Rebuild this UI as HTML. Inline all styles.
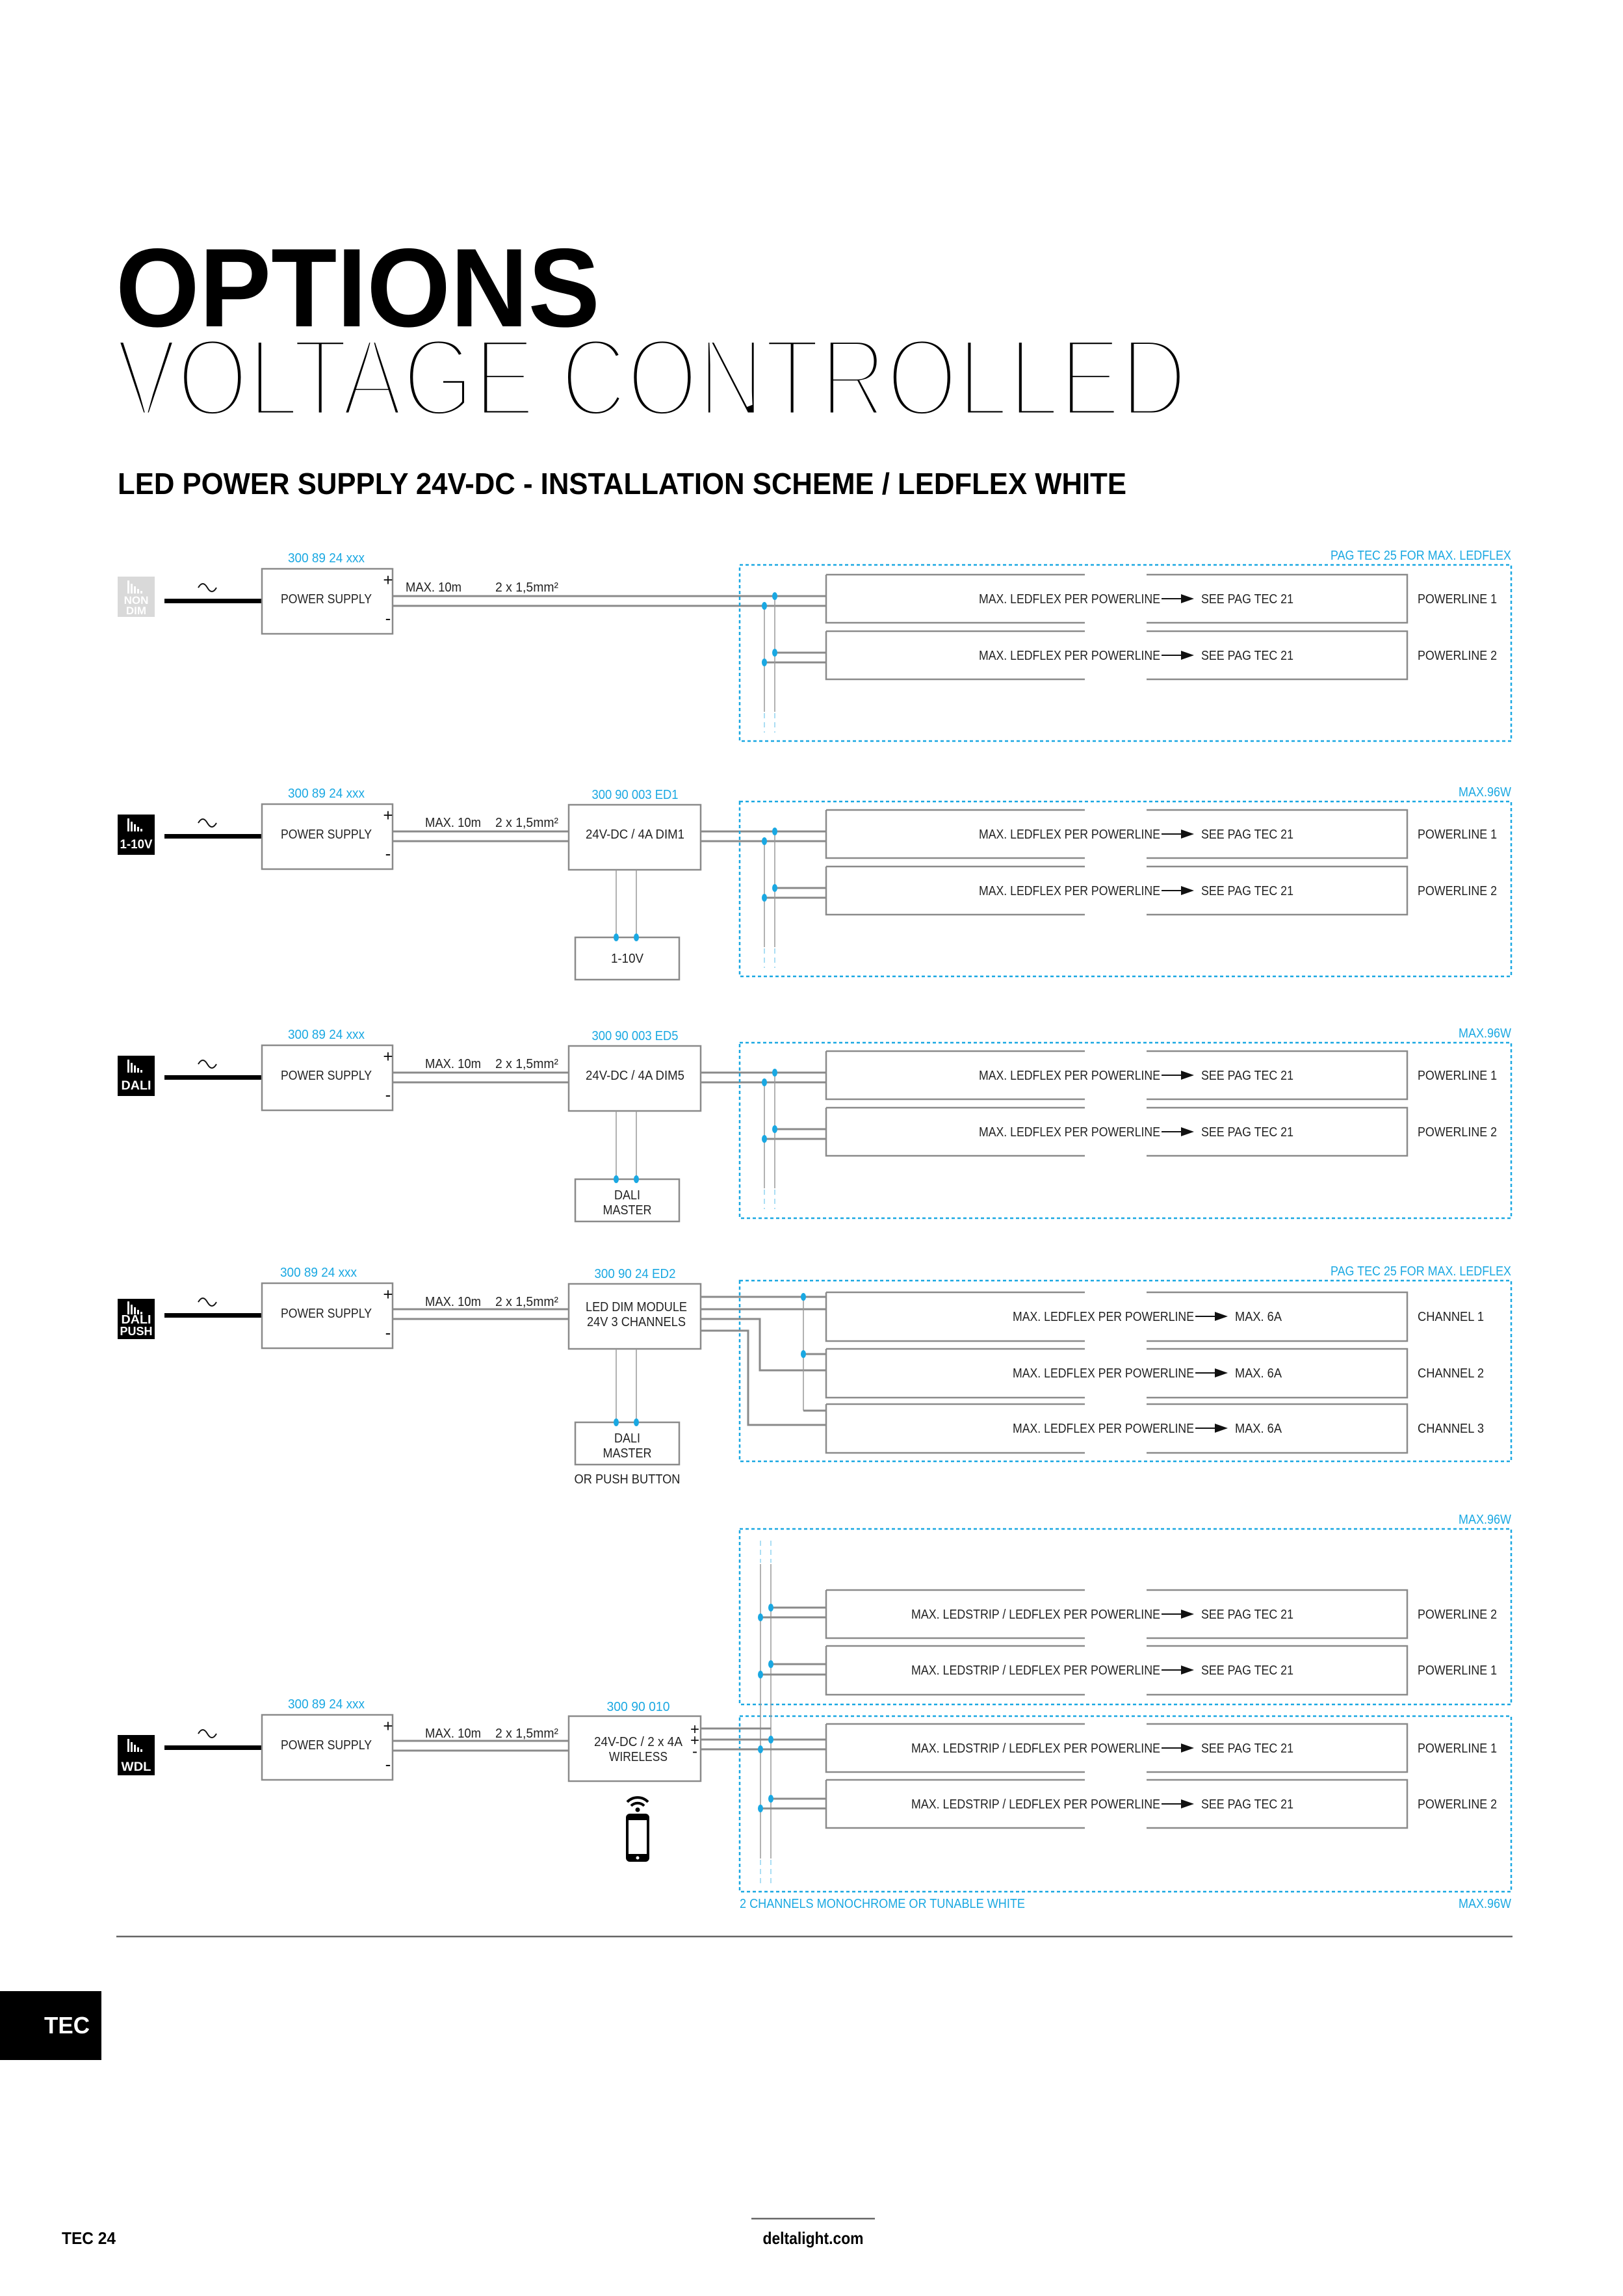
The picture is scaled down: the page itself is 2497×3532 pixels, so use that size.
<!DOCTYPE html>
<html><head><meta charset="utf-8"><style>
html,body{margin:0;padding:0;background:#fff}
svg{display:block}
text{font-family:"Liberation Sans",sans-serif}
.t{font-size:20px;fill:#222}
.b{font-size:20px;fill:#1aa8e2}
.w{stroke:#8a8a8a;stroke-width:3;fill:none}
.bx{stroke:#8a8a8a;stroke-width:2.5;fill:none}
.d{stroke:#1aa8e2;stroke-width:2.5;fill:none;stroke-dasharray:5 4}
.dot{fill:#1aa8e2}
.bus{stroke:#999;stroke-width:1.5;fill:none}
.busd{stroke:#8fd3f0;stroke-width:1.5;fill:none;stroke-dasharray:8 6}
</style></head><body>
<svg width="2497" height="3532" viewBox="0 0 2497 3532" xmlns="http://www.w3.org/2000/svg">
<defs>
<g id="bars" fill="#fff"><rect x="0" y="0" width="3" height="20"/><rect x="5" y="5" width="3" height="15"/><rect x="10" y="9" width="3" height="11"/><rect x="15" y="13" width="3" height="7"/><rect x="20" y="16" width="3" height="4"/></g>
<g id="arrow"><line x1="0" y1="0" x2="36" y2="0" stroke="#111" stroke-width="2"/><polygon points="30,-7 50,0 30,7" fill="#111"/></g>
</defs>

<!-- HEADER -->
<text x="178" y="502" font-size="172" font-weight="bold" textLength="745" lengthAdjust="spacingAndGlyphs" fill="#000">OPTIONS</text>
<text x="178" y="640" font-size="172" textLength="1648" lengthAdjust="spacingAndGlyphs" fill="#000" stroke="#fff" stroke-width="11">VOLTAGE CONTROLLED</text>
<text x="181" y="760" font-size="46" font-weight="bold" textLength="1552" lengthAdjust="spacingAndGlyphs" fill="#000">LED POWER SUPPLY 24V-DC - INSTALLATION SCHEME / LEDFLEX WHITE</text>

<!-- ========== S1 NON DIM ========== -->
<g transform="translate(0,875)">
  <rect x="181" y="12" width="57" height="62" fill="#d9d9d9"/>
  <use href="#bars" x="196" y="18"/>
  <text x="209.5" y="54" font-size="17" font-weight="bold" fill="#fff" text-anchor="middle">NON</text>
  <text x="209.5" y="70" font-size="17" font-weight="bold" fill="#fff" text-anchor="middle">DIM</text>
  <path d="M305,29 q7,-12 14,0 t14,0" stroke="#111" stroke-width="2" fill="none"/>
  <rect x="253" y="46" width="150" height="7" fill="#000"/>
  <text class="b" x="502" y="-10" text-anchor="middle" textLength="118" lengthAdjust="spacingAndGlyphs">300 89 24 xxx</text>
  <rect class="bx" x="403" y="0" width="201" height="100"/>
  <text class="t" x="502" y="53" text-anchor="middle" textLength="140" lengthAdjust="spacingAndGlyphs">POWER SUPPLY</text>
  <text x="597" y="26" font-size="26" text-anchor="middle" fill="#111">+</text>
  <text x="597" y="85" font-size="26" text-anchor="middle" fill="#111">-</text>
  <text class="t" x="624" y="35" textLength="86" lengthAdjust="spacingAndGlyphs">MAX. 10m</text>
  <text class="t" x="762" y="35" textLength="97" lengthAdjust="spacingAndGlyphs">2 x 1,5mm²</text>
  <line class="w" x1="604" y1="42" x2="1271" y2="42"/>
  <line class="w" x1="604" y1="57" x2="1271" y2="57"/>
  <rect class="d" x="1138" y="-6" width="1187" height="271"/>
  <text class="b" x="2325" y="-14" text-anchor="end" textLength="278" lengthAdjust="spacingAndGlyphs">PAG TEC 25 FOR MAX. LEDFLEX</text>
  <path class="bx" d="M1271,9 H1669 M1764,9 H2165 V83 H1764 M1669,83 H1271 V9"/>
  <path class="bx" d="M1271,96 H1669 M1764,96 H2165 V170 H1764 M1669,170 H1271 V96"/>
  <line class="w" x1="1192" y1="129" x2="1271" y2="129"/>
  <line class="w" x1="1176" y1="144" x2="1271" y2="144"/>
  <line class="bus" x1="1176" y1="57" x2="1176" y2="220"/><line class="busd" x1="1176" y1="222" x2="1176" y2="252"/>
  <line class="bus" x1="1192" y1="42" x2="1192" y2="220"/><line class="busd" x1="1192" y1="222" x2="1192" y2="252"/>
  <ellipse class="dot" cx="1192" cy="42" rx="4" ry="6"/><ellipse class="dot" cx="1176" cy="57" rx="4" ry="6"/>
  <ellipse class="dot" cx="1192" cy="129" rx="4" ry="6"/><ellipse class="dot" cx="1176" cy="144" rx="4" ry="6"/>
  <text class="t" x="1785" y="53" text-anchor="end" textLength="279" lengthAdjust="spacingAndGlyphs">MAX. LEDFLEX PER POWERLINE</text>
  <use href="#arrow" x="1787" y="46"/>
  <text class="t" x="1848" y="53" textLength="142" lengthAdjust="spacingAndGlyphs">SEE PAG TEC 21</text>
  <text class="t" x="2181" y="53" textLength="122" lengthAdjust="spacingAndGlyphs">POWERLINE 1</text>
  <text class="t" x="1785" y="140" text-anchor="end" textLength="279" lengthAdjust="spacingAndGlyphs">MAX. LEDFLEX PER POWERLINE</text>
  <use href="#arrow" x="1787" y="133"/>
  <text class="t" x="1848" y="140" textLength="142" lengthAdjust="spacingAndGlyphs">SEE PAG TEC 21</text>
  <text class="t" x="2181" y="140" textLength="122" lengthAdjust="spacingAndGlyphs">POWERLINE 2</text>
</g>

<!-- ========== S2 1-10V ========== -->
<g transform="translate(0,1237)">
  <rect x="181" y="16" width="57" height="62" fill="#000"/>
  <use href="#bars" x="196" y="22"/>
  <text x="209.5" y="68" font-size="19" font-weight="bold" fill="#fff" text-anchor="middle" textLength="50" lengthAdjust="spacingAndGlyphs">1-10V</text>
  <path d="M305,29 q7,-12 14,0 t14,0" stroke="#111" stroke-width="2" fill="none"/>
  <rect x="253" y="46" width="150" height="7" fill="#000"/>
  <text class="b" x="502" y="-10" text-anchor="middle" textLength="118" lengthAdjust="spacingAndGlyphs">300 89 24 xxx</text>
  <rect class="bx" x="403" y="0" width="201" height="100"/>
  <text class="t" x="502" y="53" text-anchor="middle" textLength="140" lengthAdjust="spacingAndGlyphs">POWER SUPPLY</text>
  <text x="597" y="26" font-size="26" text-anchor="middle" fill="#111">+</text>
  <text x="597" y="85" font-size="26" text-anchor="middle" fill="#111">-</text>
  <text class="t" x="654" y="35" textLength="86" lengthAdjust="spacingAndGlyphs">MAX. 10m</text>
  <text class="t" x="762" y="35" textLength="97" lengthAdjust="spacingAndGlyphs">2 x 1,5mm²</text>
  <line class="w" x1="604" y1="42" x2="875" y2="42"/>
  <line class="w" x1="604" y1="57" x2="875" y2="57"/>
  <text class="b" x="977" y="-8" text-anchor="middle" textLength="133" lengthAdjust="spacingAndGlyphs">300 90 003 ED1</text>
  <rect class="bx" x="875" y="1" width="203" height="100"/>
  <text class="t" x="977" y="53" text-anchor="middle" textLength="152" lengthAdjust="spacingAndGlyphs">24V-DC / 4A DIM1</text>
  <line class="bus" x1="948" y1="101" x2="948" y2="205"/><line class="bus" x1="979" y1="101" x2="979" y2="205"/>
  <rect class="bx" x="885" y="205" width="160" height="65"/>
  <ellipse class="dot" cx="948" cy="205" rx="4" ry="6"/><ellipse class="dot" cx="979" cy="205" rx="4" ry="6"/>
  <text class="t" x="965" y="244" text-anchor="middle" textLength="50" lengthAdjust="spacingAndGlyphs">1-10V</text>
  <line class="w" x1="1078" y1="42" x2="1271" y2="42"/>
  <line class="w" x1="1078" y1="57" x2="1271" y2="57"/>
  <rect class="d" x="1138" y="-4" width="1187" height="269"/>
  <text class="b" x="2325" y="-12" text-anchor="end" textLength="81" lengthAdjust="spacingAndGlyphs">MAX.96W</text>
  <path class="bx" d="M1271,9 H1669 M1764,9 H2165 V83 H1764 M1669,83 H1271 V9"/>
  <path class="bx" d="M1271,96 H1669 M1764,96 H2165 V170 H1764 M1669,170 H1271 V96"/>
  <line class="w" x1="1192" y1="129" x2="1271" y2="129"/>
  <line class="w" x1="1176" y1="144" x2="1271" y2="144"/>
  <line class="bus" x1="1176" y1="57" x2="1176" y2="220"/><line class="busd" x1="1176" y1="222" x2="1176" y2="252"/>
  <line class="bus" x1="1192" y1="42" x2="1192" y2="220"/><line class="busd" x1="1192" y1="222" x2="1192" y2="252"/>
  <ellipse class="dot" cx="1192" cy="42" rx="4" ry="6"/><ellipse class="dot" cx="1176" cy="57" rx="4" ry="6"/>
  <ellipse class="dot" cx="1192" cy="129" rx="4" ry="6"/><ellipse class="dot" cx="1176" cy="144" rx="4" ry="6"/>
  <text class="t" x="1785" y="53" text-anchor="end" textLength="279" lengthAdjust="spacingAndGlyphs">MAX. LEDFLEX PER POWERLINE</text>
  <use href="#arrow" x="1787" y="46"/>
  <text class="t" x="1848" y="53" textLength="142" lengthAdjust="spacingAndGlyphs">SEE PAG TEC 21</text>
  <text class="t" x="2181" y="53" textLength="122" lengthAdjust="spacingAndGlyphs">POWERLINE 1</text>
  <text class="t" x="1785" y="140" text-anchor="end" textLength="279" lengthAdjust="spacingAndGlyphs">MAX. LEDFLEX PER POWERLINE</text>
  <use href="#arrow" x="1787" y="133"/>
  <text class="t" x="1848" y="140" textLength="142" lengthAdjust="spacingAndGlyphs">SEE PAG TEC 21</text>
  <text class="t" x="2181" y="140" textLength="122" lengthAdjust="spacingAndGlyphs">POWERLINE 2</text>
</g>

<!-- ========== S3 DALI ========== -->
<g transform="translate(0,1608)">
  <rect x="181" y="16" width="57" height="62" fill="#000"/>
  <use href="#bars" x="196" y="22"/>
  <text x="209.5" y="68" font-size="19" font-weight="bold" fill="#fff" text-anchor="middle" textLength="46" lengthAdjust="spacingAndGlyphs">DALI</text>
  <path d="M305,29 q7,-12 14,0 t14,0" stroke="#111" stroke-width="2" fill="none"/>
  <rect x="253" y="46" width="150" height="7" fill="#000"/>
  <text class="b" x="502" y="-10" text-anchor="middle" textLength="118" lengthAdjust="spacingAndGlyphs">300 89 24 xxx</text>
  <rect class="bx" x="403" y="0" width="201" height="100"/>
  <text class="t" x="502" y="53" text-anchor="middle" textLength="140" lengthAdjust="spacingAndGlyphs">POWER SUPPLY</text>
  <text x="597" y="26" font-size="26" text-anchor="middle" fill="#111">+</text>
  <text x="597" y="85" font-size="26" text-anchor="middle" fill="#111">-</text>
  <text class="t" x="654" y="35" textLength="86" lengthAdjust="spacingAndGlyphs">MAX. 10m</text>
  <text class="t" x="762" y="35" textLength="97" lengthAdjust="spacingAndGlyphs">2 x 1,5mm²</text>
  <line class="w" x1="604" y1="42" x2="875" y2="42"/>
  <line class="w" x1="604" y1="57" x2="875" y2="57"/>
  <text class="b" x="977" y="-8" text-anchor="middle" textLength="133" lengthAdjust="spacingAndGlyphs">300 90 003 ED5</text>
  <rect class="bx" x="875" y="1" width="203" height="100"/>
  <text class="t" x="977" y="53" text-anchor="middle" textLength="152" lengthAdjust="spacingAndGlyphs">24V-DC / 4A DIM5</text>
  <line class="bus" x1="948" y1="101" x2="948" y2="206"/><line class="bus" x1="979" y1="101" x2="979" y2="206"/>
  <rect class="bx" x="885" y="206" width="160" height="65"/>
  <ellipse class="dot" cx="948" cy="206" rx="4" ry="6"/><ellipse class="dot" cx="979" cy="206" rx="4" ry="6"/>
  <text class="t" x="965" y="237" text-anchor="middle" textLength="40" lengthAdjust="spacingAndGlyphs">DALI</text>
  <text class="t" x="965" y="260" text-anchor="middle" textLength="75" lengthAdjust="spacingAndGlyphs">MASTER</text>
  <line class="w" x1="1078" y1="42" x2="1271" y2="42"/>
  <line class="w" x1="1078" y1="57" x2="1271" y2="57"/>
  <rect class="d" x="1138" y="-4" width="1187" height="270"/>
  <text class="b" x="2325" y="-12" text-anchor="end" textLength="81" lengthAdjust="spacingAndGlyphs">MAX.96W</text>
  <path class="bx" d="M1271,9 H1669 M1764,9 H2165 V83 H1764 M1669,83 H1271 V9"/>
  <path class="bx" d="M1271,96 H1669 M1764,96 H2165 V170 H1764 M1669,170 H1271 V96"/>
  <line class="w" x1="1192" y1="129" x2="1271" y2="129"/>
  <line class="w" x1="1176" y1="144" x2="1271" y2="144"/>
  <line class="bus" x1="1176" y1="57" x2="1176" y2="220"/><line class="busd" x1="1176" y1="222" x2="1176" y2="252"/>
  <line class="bus" x1="1192" y1="42" x2="1192" y2="220"/><line class="busd" x1="1192" y1="222" x2="1192" y2="252"/>
  <ellipse class="dot" cx="1192" cy="42" rx="4" ry="6"/><ellipse class="dot" cx="1176" cy="57" rx="4" ry="6"/>
  <ellipse class="dot" cx="1192" cy="129" rx="4" ry="6"/><ellipse class="dot" cx="1176" cy="144" rx="4" ry="6"/>
  <text class="t" x="1785" y="53" text-anchor="end" textLength="279" lengthAdjust="spacingAndGlyphs">MAX. LEDFLEX PER POWERLINE</text>
  <use href="#arrow" x="1787" y="46"/>
  <text class="t" x="1848" y="53" textLength="142" lengthAdjust="spacingAndGlyphs">SEE PAG TEC 21</text>
  <text class="t" x="2181" y="53" textLength="122" lengthAdjust="spacingAndGlyphs">POWERLINE 1</text>
  <text class="t" x="1785" y="140" text-anchor="end" textLength="279" lengthAdjust="spacingAndGlyphs">MAX. LEDFLEX PER POWERLINE</text>
  <use href="#arrow" x="1787" y="133"/>
  <text class="t" x="1848" y="140" textLength="142" lengthAdjust="spacingAndGlyphs">SEE PAG TEC 21</text>
  <text class="t" x="2181" y="140" textLength="122" lengthAdjust="spacingAndGlyphs">POWERLINE 2</text>
</g>

<!-- ========== S4 DALI PUSH ========== -->
<g transform="translate(0,1974)">
  <rect x="181" y="24" width="57" height="62" fill="#000"/>
  <use href="#bars" x="196" y="28"/>
  <text x="209.5" y="62" font-size="18" font-weight="bold" fill="#fff" text-anchor="middle" textLength="46" lengthAdjust="spacingAndGlyphs">DALI</text>
  <text x="209.5" y="80" font-size="18" font-weight="bold" fill="#fff" text-anchor="middle" textLength="50" lengthAdjust="spacingAndGlyphs">PUSH</text>
  <path d="M305,29 q7,-12 14,0 t14,0" stroke="#111" stroke-width="2" fill="none"/>
  <rect x="253" y="46" width="150" height="7" fill="#000"/>
  <text class="b" x="490" y="-10" text-anchor="middle" textLength="118" lengthAdjust="spacingAndGlyphs">300 89 24 xxx</text>
  <rect class="bx" x="403" y="0" width="201" height="100"/>
  <text class="t" x="502" y="53" text-anchor="middle" textLength="140" lengthAdjust="spacingAndGlyphs">POWER SUPPLY</text>
  <text x="597" y="26" font-size="26" text-anchor="middle" fill="#111">+</text>
  <text x="597" y="85" font-size="26" text-anchor="middle" fill="#111">-</text>
  <text class="t" x="654" y="35" textLength="86" lengthAdjust="spacingAndGlyphs">MAX. 10m</text>
  <text class="t" x="762" y="35" textLength="97" lengthAdjust="spacingAndGlyphs">2 x 1,5mm²</text>
  <line class="w" x1="604" y1="40" x2="875" y2="40"/>
  <line class="w" x1="604" y1="55" x2="875" y2="55"/>
  <text class="b" x="977" y="-8" text-anchor="middle" textLength="125" lengthAdjust="spacingAndGlyphs">300 90 24 ED2</text>
  <rect class="bx" x="875" y="1" width="203" height="100"/>
  <text class="t" x="979" y="43" text-anchor="middle" textLength="156" lengthAdjust="spacingAndGlyphs">LED DIM MODULE</text>
  <text class="t" x="979" y="66" text-anchor="middle" textLength="152" lengthAdjust="spacingAndGlyphs">24V 3 CHANNELS</text>
  <line class="bus" x1="948" y1="101" x2="948" y2="214"/><line class="bus" x1="979" y1="101" x2="979" y2="214"/>
  <rect class="bx" x="885" y="214" width="160" height="65"/>
  <ellipse class="dot" cx="948" cy="214" rx="4" ry="6"/><ellipse class="dot" cx="979" cy="214" rx="4" ry="6"/>
  <text class="t" x="965" y="245" text-anchor="middle" textLength="40" lengthAdjust="spacingAndGlyphs">DALI</text>
  <text class="t" x="965" y="268" text-anchor="middle" textLength="75" lengthAdjust="spacingAndGlyphs">MASTER</text>
  <text class="t" x="965" y="308" text-anchor="middle" textLength="163" lengthAdjust="spacingAndGlyphs">OR PUSH BUTTON</text>
  <rect class="d" x="1138" y="-4" width="1187" height="278"/>
  <text class="b" x="2325" y="-12" text-anchor="end" textLength="278" lengthAdjust="spacingAndGlyphs">PAG TEC 25 FOR MAX. LEDFLEX</text>
  <path class="bx" d="M1271,14 H1669 M1764,14 H2165 V89 H1764 M1669,89 H1271 V14"/>
  <path class="bx" d="M1271,101 H1669 M1764,101 H2165 V176 H1764 M1669,176 H1271 V101"/>
  <path class="bx" d="M1271,186 H1669 M1764,186 H2165 V261 H1764 M1669,261 H1271 V186"/>
  <line class="w" x1="1078" y1="21" x2="1271" y2="21"/>
  <line class="w" x1="1078" y1="40" x2="1271" y2="40"/>
  <path class="w" d="M1078,55 H1169 V134 H1271"/>
  <path class="w" d="M1078,73 H1151 V218 H1271"/>
  <line class="bus" x1="1236" y1="21" x2="1236" y2="196"/>
  <line class="w" x1="1236" y1="109" x2="1271" y2="109"/>
  <line class="w" x1="1236" y1="196" x2="1271" y2="196"/>
  <ellipse class="dot" cx="1236" cy="21" rx="4" ry="6"/><ellipse class="dot" cx="1236" cy="109" rx="4" ry="6"/>
  <text class="t" x="1837" y="58" text-anchor="end" textLength="279" lengthAdjust="spacingAndGlyphs">MAX. LEDFLEX PER POWERLINE</text>
  <use href="#arrow" x="1839" y="51"/>
  <text class="t" x="1900" y="58" textLength="72" lengthAdjust="spacingAndGlyphs">MAX. 6A</text>
  <text class="t" x="2181" y="58" textLength="102" lengthAdjust="spacingAndGlyphs">CHANNEL 1</text>
  <text class="t" x="1837" y="145" text-anchor="end" textLength="279" lengthAdjust="spacingAndGlyphs">MAX. LEDFLEX PER POWERLINE</text>
  <use href="#arrow" x="1839" y="138"/>
  <text class="t" x="1900" y="145" textLength="72" lengthAdjust="spacingAndGlyphs">MAX. 6A</text>
  <text class="t" x="2181" y="145" textLength="102" lengthAdjust="spacingAndGlyphs">CHANNEL 2</text>
  <text class="t" x="1837" y="230" text-anchor="end" textLength="279" lengthAdjust="spacingAndGlyphs">MAX. LEDFLEX PER POWERLINE</text>
  <use href="#arrow" x="1839" y="223"/>
  <text class="t" x="1900" y="230" textLength="72" lengthAdjust="spacingAndGlyphs">MAX. 6A</text>
  <text class="t" x="2181" y="230" textLength="102" lengthAdjust="spacingAndGlyphs">CHANNEL 3</text>
</g>

<!-- ========== S5 WDL ========== -->
<g transform="translate(0,2638)">
  <rect x="181" y="31" width="57" height="62" fill="#000"/>
  <use href="#bars" x="196" y="37"/>
  <text x="209.5" y="86" font-size="19" font-weight="bold" fill="#fff" text-anchor="middle" textLength="46" lengthAdjust="spacingAndGlyphs">WDL</text>
  <path d="M305,29 q7,-12 14,0 t14,0" stroke="#111" stroke-width="2" fill="none"/>
  <rect x="253" y="47" width="150" height="7" fill="#000"/>
  <text class="b" x="502" y="-10" text-anchor="middle" textLength="118" lengthAdjust="spacingAndGlyphs">300 89 24 xxx</text>
  <rect class="bx" x="403" y="0" width="201" height="100"/>
  <text class="t" x="502" y="53" text-anchor="middle" textLength="140" lengthAdjust="spacingAndGlyphs">POWER SUPPLY</text>
  <text x="597" y="26" font-size="26" text-anchor="middle" fill="#111">+</text>
  <text x="597" y="85" font-size="26" text-anchor="middle" fill="#111">-</text>
  <text class="t" x="654" y="35" textLength="86" lengthAdjust="spacingAndGlyphs">MAX. 10m</text>
  <text class="t" x="762" y="35" textLength="97" lengthAdjust="spacingAndGlyphs">2 x 1,5mm²</text>
  <line class="w" x1="604" y1="40" x2="875" y2="40"/>
  <line class="w" x1="604" y1="55" x2="875" y2="55"/>
  <text class="b" x="982" y="-6" text-anchor="middle" textLength="97" lengthAdjust="spacingAndGlyphs">300 90 010</text>
  <rect class="bx" x="875" y="2" width="203" height="100"/>
  <text class="t" x="982" y="48" text-anchor="middle" textLength="136" lengthAdjust="spacingAndGlyphs">24V-DC / 2 x 4A</text>
  <text class="t" x="982" y="71" text-anchor="middle" textLength="90" lengthAdjust="spacingAndGlyphs">WIRELESS</text>
  <text x="1069" y="30" font-size="24" text-anchor="middle" fill="#111">+</text>
  <text x="1069" y="47" font-size="24" text-anchor="middle" fill="#111">+</text>
  <text x="1069" y="64" font-size="24" text-anchor="middle" fill="#111">-</text>
  <g transform="translate(981,0)">
    <path d="M-16,134 a22,22 0 0 1 32,0" stroke="#000" stroke-width="4" fill="none"/>
    <path d="M-10,140 a14,14 0 0 1 20,0" stroke="#000" stroke-width="4" fill="none"/>
    <circle cx="0" cy="146" r="3.5" fill="#000"/>
    <rect x="-18" y="152" width="36" height="74" rx="6" fill="#000"/>
    <rect x="-14" y="162" width="28" height="52" fill="#fff"/>
    <circle cx="0" cy="220" r="2.5" fill="#fff"/>
  </g>
</g>
<rect class="d" x="1138" y="2352" width="1187" height="270"/>
<rect class="d" x="1138" y="2640" width="1187" height="270"/>
<text class="b" x="2325" y="2344" text-anchor="end" textLength="81" lengthAdjust="spacingAndGlyphs">MAX.96W</text>
<text class="b" x="1138" y="2935" textLength="439" lengthAdjust="spacingAndGlyphs">2 CHANNELS MONOCHROME OR TUNABLE WHITE</text>
<text class="b" x="2325" y="2935" text-anchor="end" textLength="81" lengthAdjust="spacingAndGlyphs">MAX.96W</text>
<line class="busd" x1="1170" y1="2370" x2="1170" y2="2404"/><line class="busd" x1="1186" y1="2370" x2="1186" y2="2404"/>
<line class="bus" x1="1170" y1="2406" x2="1170" y2="2859"/><line class="bus" x1="1186" y1="2406" x2="1186" y2="2859"/>
<line class="busd" x1="1170" y1="2861" x2="1170" y2="2897"/><line class="busd" x1="1186" y1="2861" x2="1186" y2="2897"/>
<path class="w" d="M1078,2659 H1186"/>
<line class="w" x1="1078" y1="2676" x2="1271" y2="2676"/>
<line class="w" x1="1078" y1="2691" x2="1271" y2="2691"/>
<path class="bx" d="M1271,2446 H1669 M1764,2446 H2165 V2520 H1764 M1669,2520 H1271 V2446"/>
<path class="bx" d="M1271,2532 H1669 M1764,2532 H2165 V2607 H1764 M1669,2607 H1271 V2532"/>
<path class="bx" d="M1271,2652 H1669 M1764,2652 H2165 V2726 H1764 M1669,2726 H1271 V2652"/>
<path class="bx" d="M1271,2738 H1669 M1764,2738 H2165 V2812 H1764 M1669,2812 H1271 V2738"/>
<line class="w" x1="1186" y1="2473" x2="1271" y2="2473"/><line class="w" x1="1170" y1="2488" x2="1271" y2="2488"/>
<line class="w" x1="1186" y1="2560" x2="1271" y2="2560"/><line class="w" x1="1170" y1="2576" x2="1271" y2="2576"/>
<line class="w" x1="1186" y1="2767" x2="1271" y2="2767"/><line class="w" x1="1170" y1="2782" x2="1271" y2="2782"/>
<ellipse class="dot" cx="1186" cy="2473" rx="4" ry="6"/><ellipse class="dot" cx="1170" cy="2488" rx="4" ry="6"/>
<ellipse class="dot" cx="1186" cy="2560" rx="4" ry="6"/><ellipse class="dot" cx="1170" cy="2576" rx="4" ry="6"/>
<ellipse class="dot" cx="1186" cy="2676" rx="4" ry="6"/><ellipse class="dot" cx="1170" cy="2691" rx="4" ry="6"/>
<ellipse class="dot" cx="1186" cy="2767" rx="4" ry="6"/><ellipse class="dot" cx="1170" cy="2782" rx="4" ry="6"/>
<text class="t" x="1785" y="2490" text-anchor="end" textLength="383" lengthAdjust="spacingAndGlyphs">MAX. LEDSTRIP / LEDFLEX PER POWERLINE</text>
<use href="#arrow" x="1787" y="2483"/>
<text class="t" x="1848" y="2490" textLength="142" lengthAdjust="spacingAndGlyphs">SEE PAG TEC 21</text>
<text class="t" x="2181" y="2490" textLength="122" lengthAdjust="spacingAndGlyphs">POWERLINE 2</text>
<text class="t" x="1785" y="2576" text-anchor="end" textLength="383" lengthAdjust="spacingAndGlyphs">MAX. LEDSTRIP / LEDFLEX PER POWERLINE</text>
<use href="#arrow" x="1787" y="2569"/>
<text class="t" x="1848" y="2576" textLength="142" lengthAdjust="spacingAndGlyphs">SEE PAG TEC 21</text>
<text class="t" x="2181" y="2576" textLength="122" lengthAdjust="spacingAndGlyphs">POWERLINE 1</text>
<text class="t" x="1785" y="2696" text-anchor="end" textLength="383" lengthAdjust="spacingAndGlyphs">MAX. LEDSTRIP / LEDFLEX PER POWERLINE</text>
<use href="#arrow" x="1787" y="2689"/>
<text class="t" x="1848" y="2696" textLength="142" lengthAdjust="spacingAndGlyphs">SEE PAG TEC 21</text>
<text class="t" x="2181" y="2696" textLength="122" lengthAdjust="spacingAndGlyphs">POWERLINE 1</text>
<text class="t" x="1785" y="2782" text-anchor="end" textLength="383" lengthAdjust="spacingAndGlyphs">MAX. LEDSTRIP / LEDFLEX PER POWERLINE</text>
<use href="#arrow" x="1787" y="2775"/>
<text class="t" x="1848" y="2782" textLength="142" lengthAdjust="spacingAndGlyphs">SEE PAG TEC 21</text>
<text class="t" x="2181" y="2782" textLength="122" lengthAdjust="spacingAndGlyphs">POWERLINE 2</text>

<!-- FOOTER -->
<line x1="179" y1="2979" x2="2327" y2="2979" stroke="#666" stroke-width="2.5"/>
<rect x="0" y="3063" width="156" height="106" fill="#000"/>
<text x="68" y="3128" font-size="36" font-weight="bold" fill="#fff" textLength="70" lengthAdjust="spacingAndGlyphs">TEC</text>
<text x="95" y="3452" font-size="26" font-weight="bold" fill="#000" textLength="83" lengthAdjust="spacingAndGlyphs">TEC 24</text>
<line x1="1156" y1="3413" x2="1346" y2="3413" stroke="#666" stroke-width="2.5"/>
<text x="1251" y="3452" font-size="26" font-weight="bold" fill="#000" text-anchor="middle" textLength="155" lengthAdjust="spacingAndGlyphs">deltalight.com</text>
</svg>
</body></html>
